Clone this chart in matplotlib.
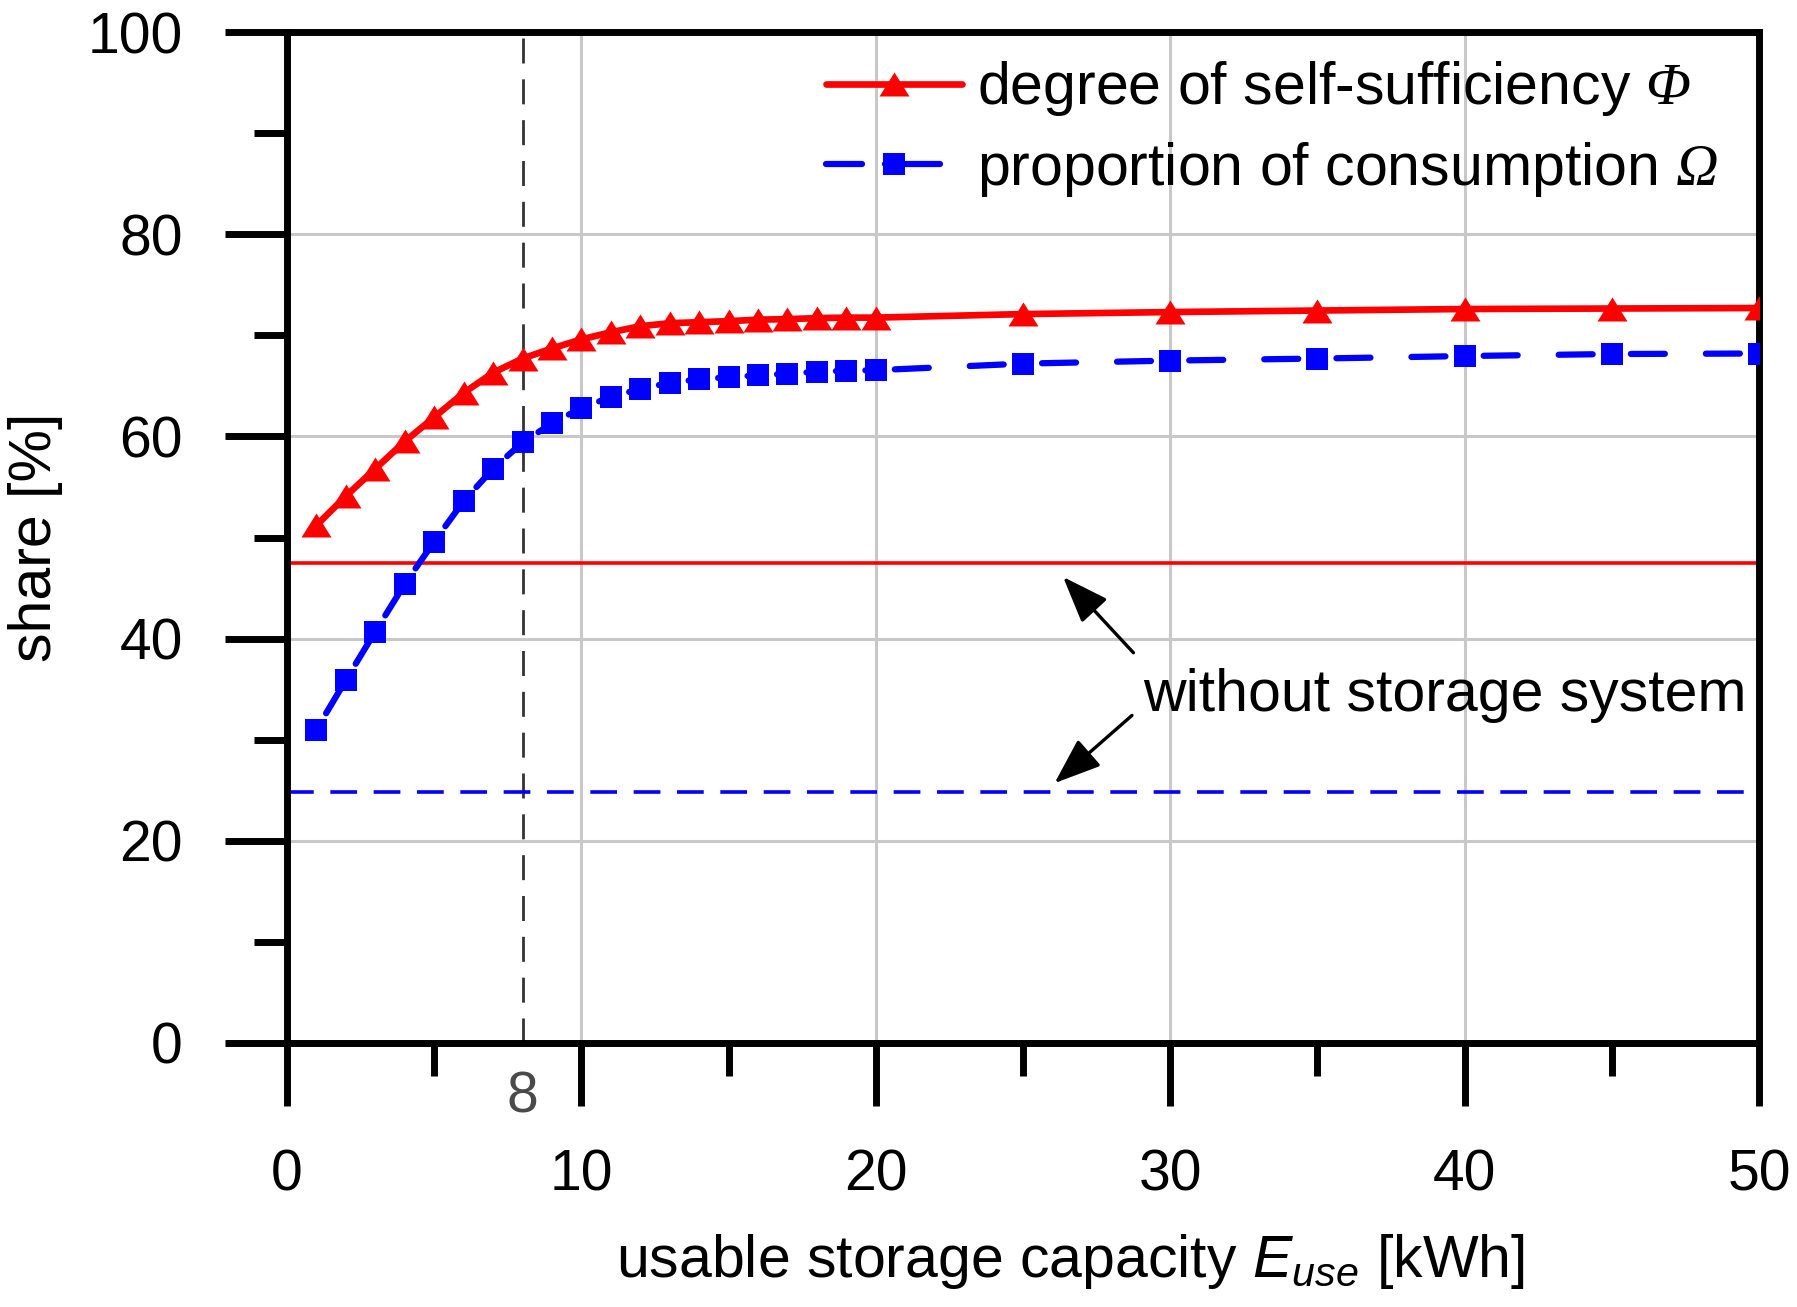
import matplotlib
matplotlib.use('Agg')
import matplotlib.pyplot as plt
from matplotlib.ticker import MultipleLocator
from matplotlib.lines import Line2D
from matplotlib.patches import ArrowStyle

# ---------------- data ----------------
capacity = [1, 2, 3, 4, 5, 6, 7, 8, 9, 10, 11, 12, 13, 14, 15, 16, 17, 18, 19, 20,
            25, 30, 35, 40, 45, 50]
self_sufficiency = [51.2, 54.1, 56.8, 59.5, 61.9, 64.3, 66.3, 67.7, 68.7, 69.6,
                    70.3, 70.9, 71.2, 71.3, 71.4, 71.55, 71.6, 71.7, 71.75, 71.75,
                    72.1, 72.3, 72.45, 72.6, 72.65, 72.7]
consumption = [31.0, 35.9, 40.7, 45.4, 49.6, 53.6, 56.8, 59.4, 61.3, 62.8,
               63.9, 64.7, 65.3, 65.65, 65.85, 66.05, 66.2, 66.4, 66.5, 66.55,
               67.2, 67.5, 67.7, 67.95, 68.15, 68.2]
baseline_self_sufficiency = 47.5
baseline_consumption = 24.8
marked_capacity = 8
x_ticks = [0, 10, 20, 30, 40, 50]
y_ticks = [0, 20, 40, 60, 80, 100]
label_phi = 'degree of self-sufficiency $\\mathsf{\\Phi}$'
label_omega = 'proportion of consumption $\\mathsf{\\Omega}$'

# ---------------- style ----------------
plt.rcParams['font.family'] = ['Liberation Sans', 'DejaVu Sans']
plt.rcParams['mathtext.fontset'] = 'custom'
plt.rcParams['mathtext.rm'] = 'Liberation Sans'
plt.rcParams['mathtext.it'] = 'Liberation Sans:italic'
plt.rcParams['mathtext.sf'] = 'Liberation Serif:italic'

FS = 42.5      # labels / legend / annotation
FS_TICK = 41
RED = '#ff0000'
BLUE = '#0000ff'
tri = [(-1, -0.8), (1, -0.8), (0, 0.8)]
LW_RED = 4.8
LW_BLUE = 4.5

fig = plt.figure(figsize=(17.97, 13.07), dpi=100)
ax = fig.add_axes([0.1597, 0.2020, 0.8192, 0.7735])

ax.set_xlim(0, 50)
ax.set_ylim(0, 100)
ax.xaxis.set_major_locator(MultipleLocator(10))
ax.xaxis.set_minor_locator(MultipleLocator(5))
ax.yaxis.set_major_locator(MultipleLocator(20))
ax.yaxis.set_minor_locator(MultipleLocator(10))
ax.set_xticks(x_ticks)
ax.set_yticks(y_ticks)
ax.set_xticklabels([str(v) for v in x_ticks])
ax.set_yticklabels([str(v) for v in y_ticks])

for s in ax.spines.values():
    s.set_linewidth(5.0)
ax.tick_params(axis='both', which='both', direction='out', width=5.0, labelsize=FS_TICK)
ax.tick_params(axis='both', which='major', length=45)
ax.tick_params(axis='both', which='minor', length=24)
ax.tick_params(axis='x', which='major', pad=31)
ax.tick_params(axis='y', which='major', pad=30)

ax.grid(True, which='major', color='#c8c8c8', lw=2.2)
ax.set_axisbelow(True)

# marked capacity line
ax.axvline(marked_capacity, color='#333333', lw=2.0, ls=(0, (9, 5.7)), zorder=1.5)
ax.text(marked_capacity, -6.9, str(marked_capacity), ha='center', va='baseline',
        fontsize=FS_TICK, color='#4a4a4a', clip_on=False)

# reference lines without storage
ax.axhline(baseline_self_sufficiency, color=RED, lw=2.6, zorder=2)
ax.axhline(baseline_consumption, color=BLUE, lw=2.6, ls=(0, (7.4, 4.6)), zorder=2)

# red series
ax.plot(capacity, self_sufficiency, color=RED, lw=LW_RED, zorder=3)
ax.plot(capacity, self_sufficiency, ls='none', marker=tri, ms=21.6,
        color=RED, mew=0, zorder=4)

# blue series: dash pattern restarts at each data point (gap next to markers)
blue_dash = (8.96, (5.44, 6.56))
for i in range(len(capacity) - 1):
    ax.plot(capacity[i:i + 2], consumption[i:i + 2], color=BLUE, lw=LW_BLUE,
            ls=blue_dash, dash_capstyle='round', zorder=3)
ax.plot(capacity, consumption, ls='none', marker='s', ms=15.5,
        color=BLUE, mew=0, zorder=4)

# legend
h1 = Line2D([], [], color=RED, lw=LW_RED, marker=tri, ms=21.6, mew=0,
            solid_capstyle='round')
h2 = Line2D([], [], color=BLUE, lw=LW_BLUE, ls=(0, (5.76, 3.68, 8.8, 10)),
            marker='s', ms=15.5, mew=0, dash_capstyle='round')
ax.legend([h1, h2], [label_phi, label_omega], loc='upper left',
          bbox_to_anchor=(0.3662, 0.973), frameon=False, fontsize=FS,
          handlelength=2.3, handletextpad=0.25, labelspacing=0.36,
          borderaxespad=0, borderpad=0, numpoints=1)

# annotation
ax.text(29.08, 32.84, 'without storage system', ha='left', va='baseline',
        fontsize=FS, zorder=5)
astyle = ArrowStyle('-|>', head_length=0.4, head_width=0.15)
ax.annotate('', xy=(26.36, 46.1), xytext=(28.75, 38.6),
            arrowprops=dict(arrowstyle=astyle, mutation_scale=72,
                            color='black', lw=2.4, shrinkA=0, shrinkB=0))
ax.annotate('', xy=(26.07, 25.7), xytext=(28.7, 32.4),
            arrowprops=dict(arrowstyle=astyle, mutation_scale=72,
                            color='black', lw=2.4, shrinkA=0, shrinkB=0))

# axis labels
ax.set_xlabel('usable storage capacity $E_{use}$ [kWh]', fontsize=FS, va='baseline')
ax.xaxis.set_label_coords(0.532, -0.2316)
ax.set_ylabel('share [%]', fontsize=FS, va='center')
ax.yaxis.set_label_coords(-0.1705, 0.5)

fig.savefig('out.png', dpi=100)
